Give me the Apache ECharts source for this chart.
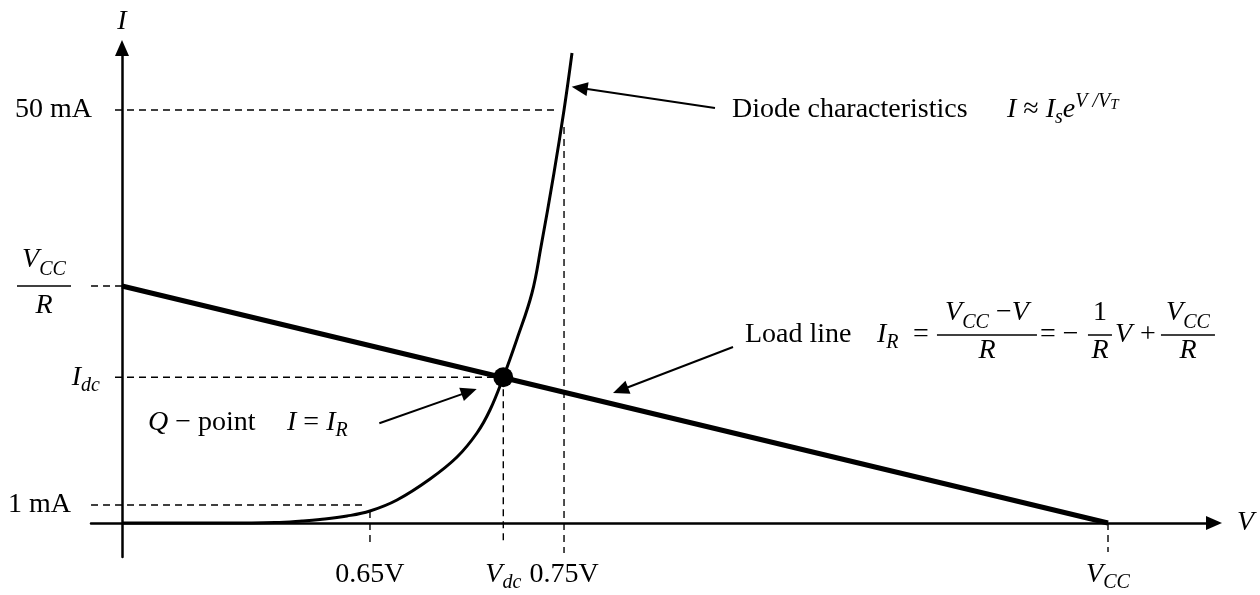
<!DOCTYPE html>
<html><head><meta charset="utf-8">
<script src="https://cdn.jsdelivr.net/npm/echarts@6/dist/echarts.min.js"></script>
<style>html,body{margin:0;padding:0;background:#fff}#c{width:1260px;height:595px}</style>
</head><body><div id="c"></div>
<script>
// ---- data (schematic units: V axis with V_CC = 10, I axis arbitrary) ----
const diodeV = [0, 1.024, 1.552, 1.826, 2.008, 2.282, 2.515, 2.789, 3.124, 3.398, 3.600, 3.732, 3.867, 4.006, 4.158, 4.249, 4.381, 4.483, 4.564];
const diodeI = [0, 0, 0.05, 0.2, 0.35, 0.7, 1.2, 2.3, 4.4, 6.6, 9.0, 11.3, 14.57, 18.4, 23.0, 27.6, 35.0, 41.3, 47.0];
const loadV = [0, 10];
const loadI = [23.7, 0];
const Vdc = 3.867, Idc = 14.57;
const V065 = 2.515, V075 = 4.483, VCC = 10;
const I1mA = 1.8, I50mA = 41.3, VCC_R = 23.7;
const xTickValues = [V065, Vdc, V075, VCC];
const xTickLabels = ['0.65V', 'V_dc', '0.75V', 'V_CC'];
const yTickValues = [I1mA, Idc, VCC_R, I50mA];
const yTickLabels = ['1 mA', 'I_dc', 'V_CC/R', '50 mA'];

const FONT = "'Liberation Serif', 'Times New Roman', serif";
function richStyles(ck) {
  const b = {fontFamily: FONT, fontSize: 28, lineHeight: 36, verticalAlign: 'middle'}; b[ck] = '#000';
  const m = (o) => Object.assign({}, b, o);
  return {
    n: m({}),
    i: m({fontStyle: 'italic'}),
    sub: m({fontStyle: 'italic', fontSize: 20, lineHeight: 22, verticalAlign: 'bottom'}),
    sup: m({fontStyle: 'italic', fontSize: 20, lineHeight: 16, verticalAlign: 'top'}),
    supsub: m({fontStyle: 'italic', fontSize: 15, lineHeight: 16, verticalAlign: 'top', padding: [6, 0, 0, 0]}),
    fi: m({fontStyle: 'italic', lineHeight: 40, align: 'center'}),
    fn: m({lineHeight: 40, align: 'center'}),
    fsub: m({fontStyle: 'italic', fontSize: 20, lineHeight: 22, verticalAlign: 'bottom', align: 'center'}),
    fd: m({fontStyle: 'italic', lineHeight: 40, verticalAlign: 'top', align: 'center'}),
    bar24: {width: 24, height: 1.5, lineHeight: 4, backgroundColor: '#000', align: 'center'},
    bar54: {width: 54, height: 1.5, lineHeight: 4, backgroundColor: '#000', align: 'center'},
    bar100: {width: 100, height: 1.5, lineHeight: 4, backgroundColor: '#000', align: 'center'},
    sp8: {width: 8, align: 'right'},
    sp29: {width: 29, align: 'right'}
  };
}
function sym(s, main, sub) {
  const p = s.split('_');
  return '{' + main + '|' + p[0] + '}' + (p[1] ? '{' + sub + '|' + p[1] + '}' : '');
}
function labelRich(lbl, sp) {
  const tail = sp ? '{' + sp + '|}' : '';
  if (lbl.indexOf('/') >= 0) {
    const q = lbl.split('/');
    return sym(q[0], 'fi', 'fsub') + tail + '\n{bar54|}' + tail + '\n' + sym(q[1], 'fd', 'fsub') + tail;
  }
  if (lbl.indexOf('_') >= 0) return sym(lbl, 'i', 'sub') + tail;
  return '{n|' + lbl + '}' + tail;
}
const yLabelGap = {'50 mA': 'sp8', '1 mA': 'sp29', 'V_CC/R': 'sp29'};

const dash = {color: '#000', width: 1.4, type: [7, 5]};
const guides = [
  [[-0.071, I50mA], [4.41, I50mA]],
  [[V075, 39.6], [V075, -3.0]],
  [[-0.071, Idc], [Vdc, Idc]],
  [[Vdc, Idc], [Vdc, -2.2]],
  [[-0.314, I1mA], [2.45, I1mA]],
  [[V065, 1.2], [V065, -2.4]],
  [[-0.314, VCC_R], [0, VCC_R]],
  [[VCC, 0], [VCC, -2.9]]
];

const chart = echarts.init(document.getElementById('c'), null, {renderer: 'canvas'});
const series = [];
guides.forEach(g => series.push({type: 'line', data: g, showSymbol: false, silent: true, lineStyle: dash, z: 1}));
series.push({type: 'line', name: 'diode', data: diodeV.map((v, k) => [v, diodeI[k]]), smooth: 0.4,
  showSymbol: false, lineStyle: {color: '#000', width: 3}, z: 3});
series.push({type: 'line', name: 'load', data: loadV.map((v, k) => [v, loadI[k]]), showSymbol: false,
  lineStyle: {color: '#000', width: 5}, z: 3});
series.push({type: 'scatter', name: 'Q', data: [[Vdc, Idc]], symbolSize: 20, itemStyle: {color: '#000', opacity: 1}, z: 5});

chart.setOption({
  animation: false,
  backgroundColor: '#fff',
  grid: {left: 91, right: 46, top: 48, bottom: 38, containLabel: false, outerBoundsMode: 'none'},
  xAxis: {
    type: 'value', min: -0.3144, max: 11.075,
    name: 'V', nameLocation: 'end', nameGap: 23,
    nameTextStyle: {fontFamily: FONT, fontSize: 28, fontStyle: 'italic', color: '#000', verticalAlign: 'middle'},
    axisLine: {onZero: true, symbol: ['none', 'triangle'], symbolSize: [14, 16], lineStyle: {color: '#000', width: 2.5}},
    axisTick: {show: false}, splitLine: {show: false},
    axisLabel: {customValues: xTickValues, margin: 0,
      formatter: (v) => { const k = xTickValues.indexOf(v); return k >= 0 ? labelRich(xTickLabels[k]) : ''; },
      rich: richStyles('color')}
  },
  yAxis: {
    type: 'value', min: -3.4, max: 47.5,
    name: 'I', nameLocation: 'end', nameGap: 12,
    nameTextStyle: {fontFamily: FONT, fontSize: 28, fontStyle: 'italic', color: '#000'},
    axisLine: {onZero: true, symbol: ['none', 'triangle'], symbolSize: [14, 16], lineStyle: {color: '#000', width: 2.5}},
    axisTick: {show: false}, splitLine: {show: false},
    axisLabel: {customValues: yTickValues, margin: -9,
      formatter: (v) => { const k = yTickValues.indexOf(v); return k >= 0 ? labelRich(yTickLabels[k], yLabelGap[yTickLabels[k]]) : ''; },
      rich: richStyles('color')}
  },
  series: series
});

// ---- annotations (anchored in data units) ----
const R = richStyles('fill');
const px = (p) => chart.convertToPixel({gridIndex: 0}, p);
function arrowEls(tail, tip) {
  const a = px(tail), b = px(tip);
  const dx = b[0] - a[0], dy = b[1] - a[1], len = Math.hypot(dx, dy), ux = dx / len, uy = dy / len;
  const L = 16, W = 7, bx = b[0] - ux * L, by = b[1] - uy * L;
  return [
    {type: 'line', shape: {x1: a[0], y1: a[1], x2: bx + ux * 2, y2: by + uy * 2}, style: {stroke: '#000', lineWidth: 2}},
    {type: 'polygon', shape: {points: [[b[0], b[1]], [bx - uy * W, by + ux * W], [bx + uy * W, by - ux * W]]}, style: {fill: '#000'}}
  ];
}
function txt(x, y, text, align) {
  return {type: 'text', x: x, y: y, style: {text: text, rich: R, align: align || 'left', verticalAlign: 'middle',
    fontFamily: FONT, fontSize: 28, fill: '#000'}};
}
const els = [];
// diode characteristics
const dA = px([6.187, 41.3]);
els.push(txt(dA[0], dA[1], '{n|Diode characteristics}'));
els.push(txt(dA[0] + 275, dA[1], '{i|I}{n| ≈ }{i|I}{sub|s}{i|e}{sup|V /V}{supsub|T}'));
// load line
const lA = px([6.318, 18.8]);
els.push(txt(lA[0], lA[1], '{n|Load line}'));
els.push(txt(lA[0] + 132, lA[1], '{i|I}{sub|R}'));
els.push(txt(lA[0] + 168, lA[1], '{n|=}'));
els.push(txt(lA[0] + 242, lA[1], '{fi|V}{fsub|CC}{fn| −}{fi|V}\n{bar100|}\n{fd|R}', 'center'));
els.push(txt(lA[0] + 295, lA[1], '{n|= −}'));
els.push(txt(lA[0] + 355, lA[1], '{fn|1}\n{bar24|}\n{fd|R}', 'center'));
els.push(txt(lA[0] + 370, lA[1], '{i|V}'));
els.push(txt(lA[0] + 395, lA[1], '{n|+}'));
els.push(txt(lA[0] + 443, lA[1], '{fi|V}{fsub|CC}\n{bar54|}\n{fd|R}', 'center'));
// Q point
const qA = px([0.264, 10.0]);
els.push(txt(qA[0], qA[1], '{i|Q}{n| − point}'));
els.push(txt(qA[0] + 139, qA[1], '{i|I}{n| = }{i|I}{sub|R}'));
// arrows
arrowEls([6.014, 41.5], [4.561, 43.63]).forEach(e => els.push(e));
arrowEls([6.197, 17.6], [4.980, 13.0]).forEach(e => els.push(e));
arrowEls([2.610, 9.97], [3.597, 13.4]).forEach(e => els.push(e));
chart.setOption({graphic: els});
</script>
</body></html>
